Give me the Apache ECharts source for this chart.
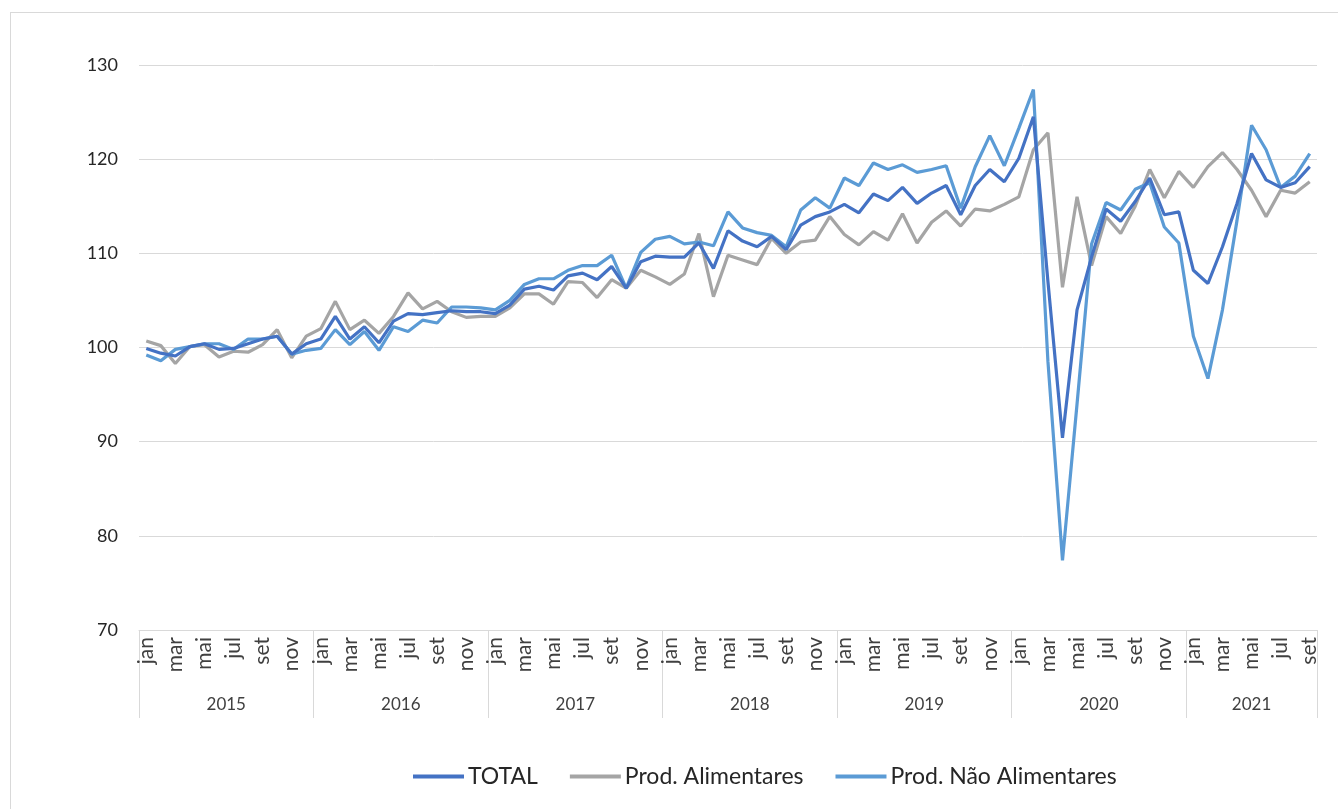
<!DOCTYPE html>
<html>
<head>
<meta charset="utf-8">
<script src="https://cdn.jsdelivr.net/npm/echarts@6/dist/echarts.min.js"></script>
<style>
    body { margin: 0; background: #fff; }
    #frame { position: absolute; left: 10px; top: 12px; width: 1400px; height: 900px; border: 1px solid #d9d9d9; }
    #chart { position: absolute; left: 0; top: 0; width: 1338px; height: 809px; }
</style>
</head>
<body>
<div id="frame"></div>
<div id="chart"></div>
<script>
    // meses e anos
    const monthNames = ['jan', 'fev', 'mar', 'abr', 'mai', 'jun', 'jul', 'ago', 'set', 'out', 'nov', 'dez'];
    const years = ['2015', '2016', '2017', '2018', '2019', '2020', '2021'];
    const yearStart = [0, 12, 24, 36, 48, 60, 72, 81];

    const total = [
        99.9, 99.4, 99.1, 100.1, 100.4, 99.8, 99.9, 100.4, 100.9, 101.2, 99.3, 100.4,
        100.9, 103.3, 100.9, 102.2, 100.5, 102.8, 103.6, 103.5, 103.7, 103.9, 103.8, 103.8,
        103.6, 104.5, 106.2, 106.5, 106.1, 107.6, 107.9, 107.2, 108.6, 106.3, 109.1, 109.7,
        109.6, 109.6, 111.1, 108.4, 112.4, 111.3, 110.7, 111.8, 110.4, 113.0, 113.9, 114.4,
        115.2, 114.3, 116.3, 115.6, 117.0, 115.3, 116.4, 117.2, 114.1, 117.2, 118.9, 117.6,
        120.1, 124.5, 107.0, 90.4, 104.0, 109.6, 114.7, 113.4, 115.5, 118.0, 114.1, 114.4,
        108.2, 106.8, 110.7, 115.3, 120.6, 117.8, 117.0, 117.5, 119.2
    ];
    const alimentares = [
        100.7, 100.2, 98.3, 100.1, 100.3, 99.0, 99.6, 99.5, 100.3, 101.9, 98.9, 101.2,
        102.0, 104.9, 101.9, 102.9, 101.5, 103.3, 105.8, 104.1, 104.9, 103.8, 103.2, 103.3,
        103.3, 104.2, 105.7, 105.7, 104.6, 107.0, 106.9, 105.3, 107.2, 106.3, 108.2, 107.5,
        106.7, 107.8, 112.1, 105.4, 109.8, 109.3, 108.8, 111.6, 110.0, 111.2, 111.4, 113.9,
        112.0, 110.9, 112.3, 111.4, 114.2, 111.1, 113.3, 114.5, 112.9, 114.7, 114.5, 115.2,
        116.0, 121.0, 122.8, 106.4, 116.0, 108.7, 113.9, 112.1, 115.0, 118.9, 115.9, 118.7,
        117.0, 119.2, 120.7, 118.9, 116.7, 113.9, 116.7, 116.4, 117.6
    ];
    const naoAlimentares = [
        99.2, 98.6, 99.8, 100.1, 100.4, 100.4, 99.8, 100.9, 100.9, 101.2, 99.3, 99.7,
        99.9, 101.9, 100.3, 101.7, 99.7, 102.2, 101.7, 102.9, 102.6, 104.3, 104.3, 104.2,
        104.0, 105.0, 106.7, 107.3, 107.3, 108.2, 108.7, 108.7, 109.8, 106.3, 110.1, 111.5,
        111.8, 111.0, 111.2, 110.8, 114.4, 112.7, 112.2, 111.9, 110.7, 114.6, 115.9, 114.8,
        118.0, 117.2, 119.6, 118.9, 119.4, 118.6, 118.9, 119.3, 114.8, 119.2, 122.5, 119.3,
        123.3, 127.4, 98.5, 77.4, 94.0, 111.0, 115.4, 114.6, 116.8, 117.5, 112.8, 111.1,
        101.2, 96.7, 104.0, 113.5, 123.6, 121.0, 117.0, 118.2, 120.6
    ];

    const months = total.map((v, i) => monthNames[i % 12]);
    const yearMid = years.map((y, k) => (yearStart[k] + yearStart[k + 1]) / 2);

    const chart = echarts.init(document.getElementById('chart'));
    const font = 'Lato, "Open Sans", sans-serif';

    chart.setOption({
        animation: false,
        textStyle: { fontFamily: font },
        grid: { left: 139, top: 65, width: 1178, height: 565 },
        legend: {
            top: 760,
            left: 408,
            icon: 'rect',
            itemWidth: 51,
            itemHeight: 4,
            itemGap: 32,
            textStyle: { fontSize: 23, color: '#262626', fontFamily: font, padding: [0, 0, 0, -1] },
            data: ['TOTAL', 'Prod. Alimentares', 'Prod. Não Alimentares']
        },
        xAxis: [{
            type: 'category',
            data: months,
            boundaryGap: true,
            axisLine: { lineStyle: { color: '#d9d9d9', width: 1 } },
            axisTick: { show: false },
            axisLabel: {
                interval: 1,
                rotate: 90,
                margin: 7,
                fontSize: 21,
                color: '#404040'
            }
        }, {
            type: 'value',
            position: 'bottom',
            min: 0,
            max: 81,
            splitLine: { show: false },
            axisLine: { show: false },
            axisTick: {
                show: true,
                customValues: yearStart,
                length: 88,
                lineStyle: { color: '#d9d9d9' }
            },
            axisLabel: {
                customValues: yearMid,
                margin: 66,
                fontSize: 17,
                color: '#404040',
                formatter: v => years[yearMid.indexOf(v)]
            }
        }],
        yAxis: {
            type: 'value',
            min: 70,
            max: 130,
            interval: 10,
            axisLine: { show: false },
            axisTick: { show: false },
            axisLabel: { fontSize: 18, color: '#262626', margin: 21 },
            splitLine: { lineStyle: { color: '#d9d9d9', width: 1 } }
        },
        series: [{
            name: 'TOTAL',
            type: 'line',
            data: total,
            symbol: 'none',
            lineStyle: { width: 3.2, color: '#4472C4' },
            itemStyle: { color: '#4472C4' },
            z: 4
        }, {
            name: 'Prod. Alimentares',
            type: 'line',
            data: alimentares,
            symbol: 'none',
            lineStyle: { width: 3.2, color: '#A5A5A5' },
            itemStyle: { color: '#A5A5A5' },
            z: 2
        }, {
            name: 'Prod. Não Alimentares',
            type: 'line',
            data: naoAlimentares,
            symbol: 'none',
            lineStyle: { width: 3.2, color: '#5B9BD5' },
            itemStyle: { color: '#5B9BD5' },
            z: 3
        }]
    });
</script>
</body>
</html>
